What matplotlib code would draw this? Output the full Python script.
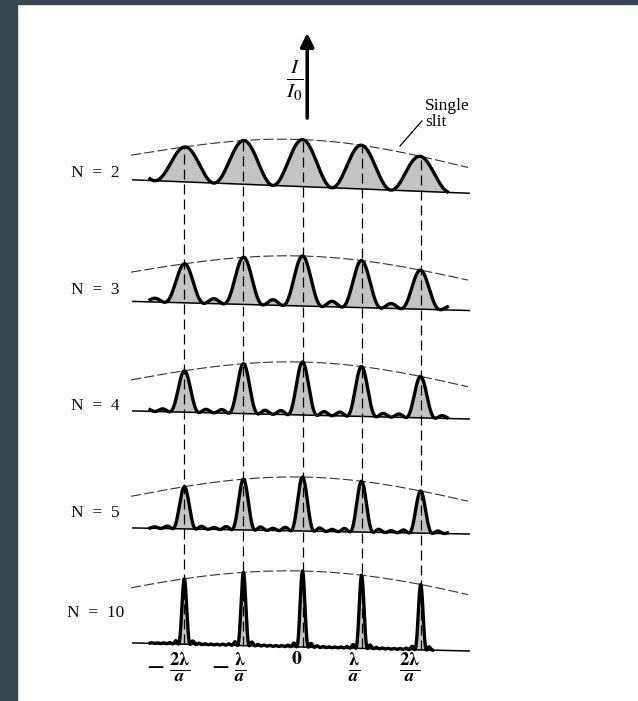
import numpy as np
import matplotlib
matplotlib.use("Agg")
import matplotlib.pyplot as plt
from matplotlib.patches import Rectangle

plt.rcParams['mathtext.fontset'] = 'stix'

# ---- data ----
n_slits = [2, 3, 4, 5, 10]
row_labels = ['N  =  2', 'N  =  3', 'N  =  4', 'N  =  5', 'N  =  10']
peak_heights = [47, 50, 53, 54, 76]          # central-peak height of each row
envelope_width = [2.15, 2.35, 2.35, 2.35, 3.0]  # single-slit envelope scale per row
orders = [-2, -1, 0, 1, 2]                    # principal maxima, units of lambda/a
tick_labels = [r'$-\;\frac{\mathbf{2}\boldsymbol{\lambda}}{\boldsymbol{a}}$',
               r'$-\;\frac{\boldsymbol{\lambda}}{\boldsymbol{a}}$',
               r'$\mathbf{0}$',
               r'$\frac{\boldsymbol{\lambda}}{\boldsymbol{a}}$',
               r'$\frac{\mathbf{2}\boldsymbol{\lambda}}{\boldsymbol{a}}$']
curve_end = [2.45, 2.45, 2.45, 2.45, 2.2]
curve_start = -2.58

# ---- layout (y axis in layout units, x axis in lambda/a) ----
baselines = [514.4, 395, 286, 170, 54]
tilts = [2.36, 1.6, 1.42, 1.07, 1.42]
label_y = [528, 411, 295, 188, 88]


def envelope(x, w):
    u = np.asarray(x, dtype=float) / w
    safe = np.where(np.abs(u) < 1e-9, 1.0, u)
    return np.where(np.abs(u) < 1e-9, 1.0, (np.sin(safe) / safe) ** 2)


def intensity(x, n, w):
    s = np.sin(np.pi * x)
    num = np.sin(n * np.pi * x)
    safe = np.where(np.abs(s) < 1e-9, 1.0, s)
    r = np.where(np.abs(s) < 1e-9, 1.0, (num / (n * safe)) ** 2)
    return envelope(x, w) * r


W, H = 638, 701
fig = plt.figure(figsize=(W / 100, H / 100), dpi=100, facecolor='white')
fig.patches.append(Rectangle((0, 0), 17 / W, 1, transform=fig.transFigure,
                             color='#37474f', zorder=0))
fig.patches.append(Rectangle((0, (H - 4) / H), 1, 4 / H, transform=fig.transFigure,
                             color='#37474f', zorder=0))
ax = fig.add_axes([17 / W, 0, (W - 17) / W, (H - 4) / H])
x0_px, dx_px = 302.5, 59.1
ax.set_xlim((17 - x0_px) / dx_px, (W - x0_px) / dx_px)
ax.set_ylim(0, H - 4)
ax.axis('off')

for i, n in enumerate(n_slits):
    b, t, h, w = baselines[i], tilts[i], peak_heights[i], envelope_width[i]
    # baseline
    xb = np.array([-2.87, 2.82])
    ax.plot(xb, b - t * xb, color='black', lw=1.1, zorder=3)
    # envelope (single slit)
    xe = np.linspace(-2.9, 2.8, 300)
    ax.plot(xe, b - t * xe + h * envelope(xe, w), color='#333333', lw=0.8,
            ls=(0, (9, 3)), zorder=2)
    # interference pattern
    xc = np.linspace(curve_start, curve_end[i], 4000)
    yc = b - t * xc + h * intensity(xc, n, w)
    ax.fill_between(xc, b - t * xc, yc, color='#c3c3c3', lw=0, zorder=1)
    ax.plot(xc, yc, color='black', lw=2.4, solid_joinstyle='round', zorder=4)
    ax.text(-3.5, label_y[i], row_labels[i], family='Liberation Serif',
            fontsize=12.5, ha='center', va='center', color='#111111')

# vertical dashed guide lines through principal maxima
for m in orders:
    xm = float(m)
    ytop = baselines[0] - tilts[0] * xm + peak_heights[0] * float(envelope(xm, envelope_width[0]))
    ybot = baselines[-1] - tilts[-1] * xm
    ax.plot([xm, xm], [ybot, ytop], color='black', lw=0.9, ls=(0, (8, 4)), zorder=5)

# tick labels
label_shift = [-0.27, -0.24, -0.1, -0.12, -0.18]
for m, lab, sh in zip(orders, tick_labels, label_shift):
    if m == 0:
        ax.text(m + sh, 43, lab, fontsize=14, ha='center', va='center')
    else:
        ax.text(m + sh, 33, lab, fontsize=19, ha='center', va='center')

# vertical axis arrow and label
ax.annotate('', xy=(0.08, H - 33), xytext=(0.08, H - 118),
            arrowprops=dict(arrowstyle='-|>', lw=2.6, mutation_scale=20,
                            color='black', shrinkA=0, shrinkB=0))
ax.text(-0.13, H - 80, r'$\frac{I}{I_0}$', fontsize=22, ha='center', va='center')

# single slit annotation
ax.plot([1.65, 2.02], [H - 146, H - 121], color='black', lw=0.9)
ax.text(2.07, H - 114, 'Single\nslit', family='Liberation Serif', fontsize=12.5,
        ha='left', va='center', linespacing=1.0)

fig.savefig('out.png', dpi=100, facecolor=fig.get_facecolor())
